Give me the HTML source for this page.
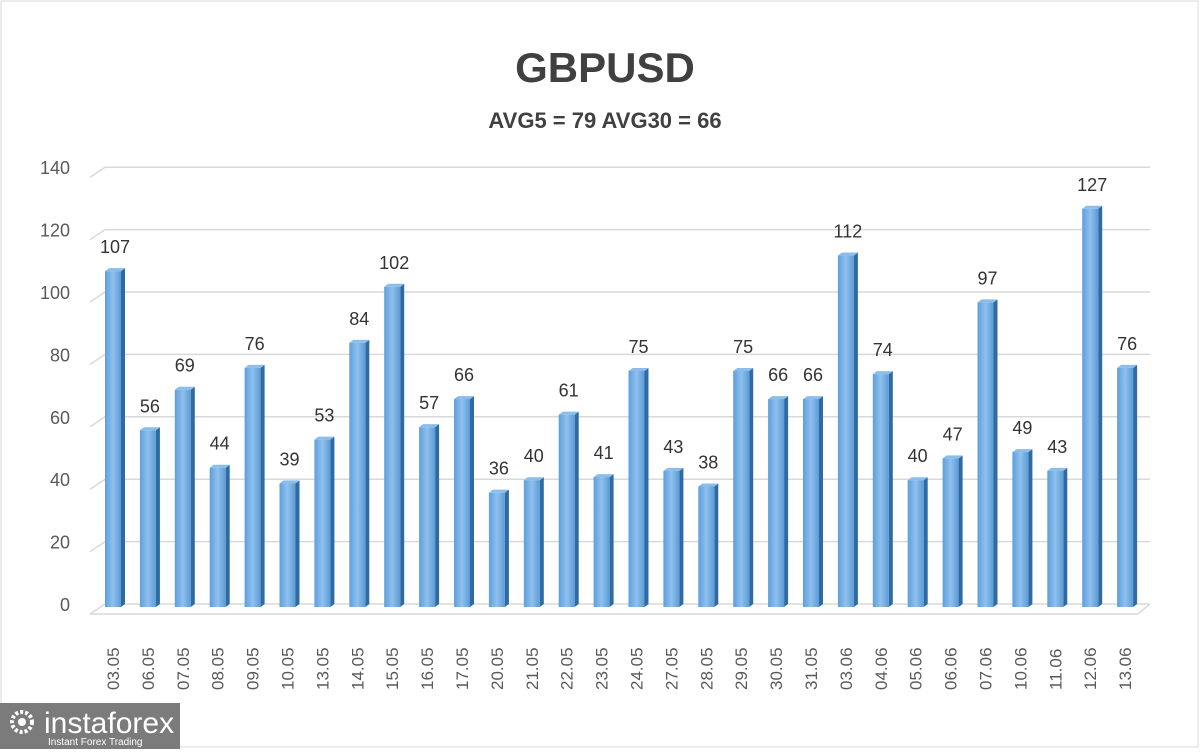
<!DOCTYPE html>
<html><head><meta charset="utf-8"><style>
body{margin:0;width:1200px;height:749px;overflow:hidden;background:#fff;font-family:"Liberation Sans",sans-serif}
</style></head><body>
<svg width="1200" height="749" xmlns="http://www.w3.org/2000/svg" font-family="Liberation Sans, sans-serif">
<defs>
<linearGradient id="g" x1="0" x2="1" y1="0" y2="0">
<stop offset="0" stop-color="#5d9fdc"/><stop offset="0.5" stop-color="#8fc0ee"/><stop offset="1" stop-color="#5b9bd5"/>
</linearGradient>
</defs>
<rect x="1" y="1" width="1197" height="746" fill="#fff" stroke="#d9d9d9"/>
<text x="605" y="82" text-anchor="middle" font-size="42" font-weight="bold" fill="#404040">GBPUSD</text>
<text x="605" y="128" text-anchor="middle" font-size="22" font-weight="bold" fill="#404040">AVG5 = 79 AVG30 = 66</text>
<g id="grid" stroke="#d9d9d9" stroke-width="1.5" fill="none"></g>
<g id="bars"></g>
<g id="labels" font-size="18" fill="#333" text-anchor="middle"></g>
<g id="yt" font-size="18" fill="#595959" text-anchor="end"></g>
<g id="xt" font-size="17" fill="#595959"></g>
<rect x="0" y="703" width="180" height="46" fill="#7b7b7b"/>
<circle cx="22" cy="722" r="10" fill="none" stroke="#fff" stroke-width="4" stroke-dasharray="3 2"/>
<circle cx="22" cy="722" r="4" fill="#fff"/>
<text x="44" y="733" font-size="30" fill="#fff">instaforex</text>
<text x="48" y="745" font-size="10" fill="#fff">Instant Forex Trading</text>
</svg>
<script>
const v=[107,56,69,44,76,39,53,84,102,57,66,36,40,61,41,75,43,38,75,66,66,112,74,40,47,97,49,43,127,76];
const d=["03.05","06.05","07.05","08.05","09.05","10.05","13.05","14.05","15.05","16.05","17.05","20.05","21.05","22.05","23.05","24.05","27.05","28.05","29.05","30.05","31.05","03.06","04.06","05.06","06.06","07.06","10.06","11.06","12.06","13.06"];
const ns="http://www.w3.org/2000/svg";
function el(p,t,a,txt){const e=document.createElementNS(ns,t);for(const k in a)e.setAttribute(k,a[k]);if(txt!==undefined)e.textContent=txt;document.getElementById(p).appendChild(e);}
const y0=604,s=3.12;
for(let i=0;i<=7;i++){const y=y0-i*20*s;
el("grid","polyline",{points:`90,${y+10} 105,${y} 1150,${y}`});
el("yt","text",{x:70,y:y+7},String(i*20));}
el("grid","line",{x1:90,y1:y0+10,x2:1138,y2:y0+10});
el("grid","line",{x1:1138,y1:y0+10,x2:1150,y2:y0});
v.forEach((val,i)=>{const cx=113+i*34.9,x=cx-8,h=val*s,top=y0+1-h;
el("bars","polygon",{points:`${x+16},${top} ${x+20},${top-3} ${x+20},${y0} ${x+16},${y0+3}`,fill:"#2f6aa3"});
el("bars","polygon",{points:`${x},${top} ${x+4},${top-3} ${x+20},${top-3} ${x+16},${top}`,fill:"#8cbdea"});
el("bars","rect",{x:x,y:top,width:16,height:y0+3-top,fill:"url(#g)"});
el("labels","text",{x:cx+2,y:top-18},String(val));
el("xt","text",{x:0,y:0,transform:`translate(${cx+6},${690}) rotate(-90)`},d[i]);});
</script>
</body></html>
